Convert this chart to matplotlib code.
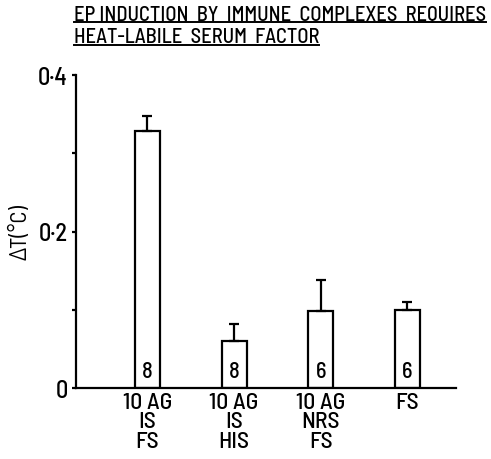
import matplotlib
matplotlib.use("Agg")
import matplotlib.pyplot as plt
from matplotlib import font_manager
from matplotlib.ticker import FixedLocator

names = {f.name for f in font_manager.fontManager.ttflist}
FONT = "Barlow Semi Condensed" if "Barlow Semi Condensed" in names else "DejaVu Sans"
plt.rcParams['font.family'] = [FONT, 'DejaVu Sans']
plt.rcParams['font.weight'] = 'medium'

categories = ["10 AG\nIS\nFS", "10 AG\nIS\nHIS", "10 AG\nNRS\nFS", "FS"]
means = [0.328, 0.060, 0.098, 0.100]
errors = [0.020, 0.022, 0.040, 0.010]
n_counts = ["8", "8", "6", "6"]
yticks = [0, 0.2, 0.4]
ytick_labels = ["0", "0·2", "0·4"]
minor_yticks = [0.1, 0.3]
title_lines = ["EP INDUCTION  BY  IMMUNE  COMPLEXES  REQUIRES",
               "HEAT-LABILE  SERUM  FACTOR"]
ylabel = "ΔT(°C)"

W, H = 491, 460
fig = plt.figure(figsize=(W / 100, H / 100), dpi=100)
ax = fig.add_axes([76 / W, (H - 389) / H, (456 - 76) / W, (389 - 76) / H])

x = list(range(1, len(categories) + 1))
ax.bar(x, means, width=0.29, color="white", edgecolor="black", linewidth=1.6, zorder=2)
ax.errorbar(x, means, yerr=[[0] * len(errors), errors], fmt="none", ecolor="black",
            elinewidth=1.6, capsize=3.5, capthick=1.6, zorder=3)
for xi, n in zip(x, n_counts):
    ax.text(xi, 0.022, n, ha="center", va="center", fontsize=16)

ax.set_xlim(0.175, 4.56)
ax.set_ylim(0, 0.4)
ax.spines["top"].set_visible(False)
ax.spines["right"].set_visible(False)
for s in ["left", "bottom"]:
    ax.spines[s].set_linewidth(1.6)
ax.set_xticks(x)
ax.set_xticklabels(categories, fontsize=17, linespacing=0.95)
ax.tick_params(axis="x", length=0, pad=3)
ax.set_yticks(yticks)
ax.set_yticklabels(ytick_labels, fontsize=17.5)
ax.yaxis.set_minor_locator(FixedLocator(minor_yticks))
ax.tick_params(axis="y", which="both", direction="out", length=3, width=1.6, pad=3)
ax.set_ylabel(ylabel, fontsize=16.5, labelpad=5)

# Title with underlines, scaled so the first line spans the reference width
x0 = 73.5 / W
target_px = 486 - 73.5
baselines = [(H - 21) / H, (H - 43) / H]
ulines = [(H - 23) / H, (H - 45.5) / H]
texts = [fig.text(x0, yb, line, fontsize=16, ha="left", va="baseline")
         for line, yb in zip(title_lines, baselines)]
fig.canvas.draw()
r = fig.canvas.get_renderer()
w = texts[0].get_window_extent(r).width
fs = 16 * target_px / w
for t in texts:
    t.set_fontsize(fs)
fig.canvas.draw()
for t, yu in zip(texts, ulines):
    bb = t.get_window_extent(r).transformed(fig.transFigure.inverted())
    fig.add_artist(plt.Line2D([bb.x0, bb.x1], [yu, yu], color="black", lw=1.4,
                              transform=fig.transFigure))

fig.savefig("out.png", dpi=100)
